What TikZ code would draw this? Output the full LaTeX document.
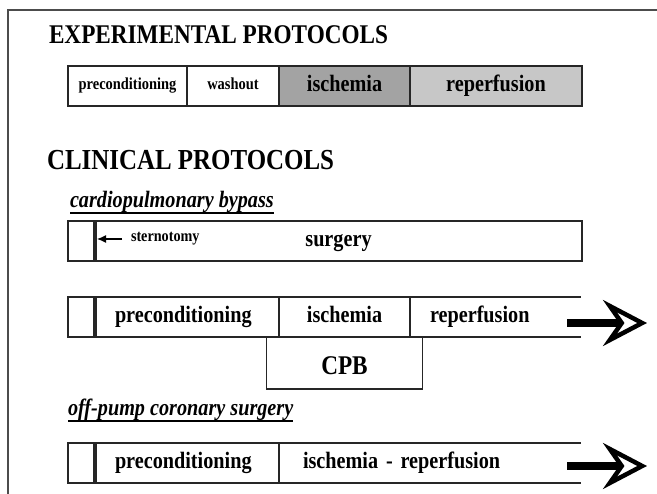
\documentclass[tikz,border=0pt]{standalone}
\usepackage{fontspec}
\setmainfont{Liberation Serif}[FakeStretch=0.86]
\usetikzlibrary{arrows.meta, positioning, calc}

\begin{document}
\begin{tikzpicture}[
    x=1pt, y=-1pt,
    every node/.style={inner sep=0pt, outer sep=0pt},
    heading/.style={anchor=base west, font=\fontsize{27}{30}\selectfont\bfseries},
    subhead/.style={anchor=base west, font=\fontsize{23.5}{28}\selectfont\bfseries\itshape},
    cell/.style={rectangle, draw=black!85, line width=1.8pt, minimum height=40pt, text height=16.5pt, text depth=5.9pt, font=\fontsize{23.5}{28}\selectfont\bfseries},
    smallcell/.style={cell, text height=11.8pt, text depth=4.2pt, font=\fontsize{16.8}{20}\selectfont\bfseries},
    opencell/.style={cell, draw=none},
    lcell/.style={align=left, inner xsep=20pt},
    divider/.style={line width=4pt, black!85},
    barline/.style={line width=1.8pt, black!85},
    uline/.style={line width=1.4pt},
    bigarrow/.style={line width=8pt, -{Stealth[open, length=44pt, width=46pt, inset=16pt, line width=4.5pt]}}
]
\useasboundingbox (0,0) rectangle (657,494);

% Frame
\draw[line width=1.3pt, black!70] (8,494) -- (8,10) -- (657,10);

% Experimental protocols
\node[heading] (exp) at (49,44) {EXPERIMENTAL PROTOCOLS};
\node[smallcell, minimum width=119pt] (xpc) at (127.5,86) {preconditioning};
\node[smallcell, minimum width=92pt, right=0pt of xpc] (xwo) {washout};
\node[cell, minimum width=131pt, fill=black!36, right=0pt of xwo] (xis) {ischemia};
\node[cell, minimum width=172pt, fill=black!22, right=0pt of xis] (xrp) {reperfusion};

% Clinical protocols
\node[heading, font=\fontsize{29}{32}\selectfont\bfseries] (clin) at (47,170) {CLINICAL PROTOCOLS};

% Cardiopulmonary bypass
\node[subhead] (cpbt) at (70,208) {cardiopulmonary bypass};
\draw[uline] ([yshift=-5pt]cpbt.base west) -- ([yshift=-5pt]cpbt.base east);

\node[cell, minimum width=27pt] (s0) at (81.5,241) {};
\node[cell, minimum width=487pt, right=0pt of s0] (sg) {surgery};
\draw[divider] (s0.north east) -- (s0.south east);
\node[anchor=west, font=\fontsize{16.5}{20}\selectfont\bfseries] (st) at (131,239) {sternotomy};
\coordinate (cut) at (s0.east |- st.west);
\draw[line width=1.2pt, -{Latex[length=9pt, width=8pt]}] ([xshift=-9pt]st.west) -- ([xshift=2pt]cut);

\node[cell, minimum width=27pt] (m0) at (81.5,317) {};
\node[cell, lcell, text width=144pt, right=0pt of m0] (mpc) {preconditioning};
\node[cell, minimum width=131pt, right=0pt of mpc] (mis) {ischemia};
\node[opencell, lcell, text width=131pt, right=0pt of mis] (mrp) {reperfusion};
\draw[barline] (mrp.north west) -- (mrp.north east) (mrp.south west) -- (mrp.south east);
\draw[divider] (m0.north east) -- (m0.south east);
\node[cell, minimum width=156pt, minimum height=52pt, text height=24pt, text depth=0pt,
      font=\fontsize{27}{30}\selectfont\bfseries, below=0pt of mis] (cpb) {CPB};

\coordinate (mtail) at ($(mrp.east)+(-14,6)$);
\coordinate (mtip) at ($(mrp.east)+(66,6)$);
\draw[bigarrow] (mtail) -- (mtip);

% Off-pump coronary surgery
\node[subhead] (opt) at (68,416) {off-pump coronary surgery};
\draw[uline] ([yshift=-5pt]opt.base west) -- ([yshift=-5pt]opt.base east);

\node[cell, minimum width=27pt] (p0) at (81.5,463) {};
\node[cell, lcell, text width=144pt, right=0pt of p0] (ppc) {preconditioning};
\node[opencell, lcell, inner xsep=24pt, text width=254pt, right=0pt of ppc] (pir) {ischemia - reperfusion};
\draw[barline] (pir.north west) -- (pir.north east) (pir.south west) -- (pir.south east);
\draw[divider] (p0.north east) -- (p0.south east);

\coordinate (ptail) at ($(pir.east)+(-14,3)$);
\coordinate (ptip) at ($(pir.east)+(66,3)$);
\draw[bigarrow] (ptail) -- (ptip);

\end{tikzpicture}
\end{document}
